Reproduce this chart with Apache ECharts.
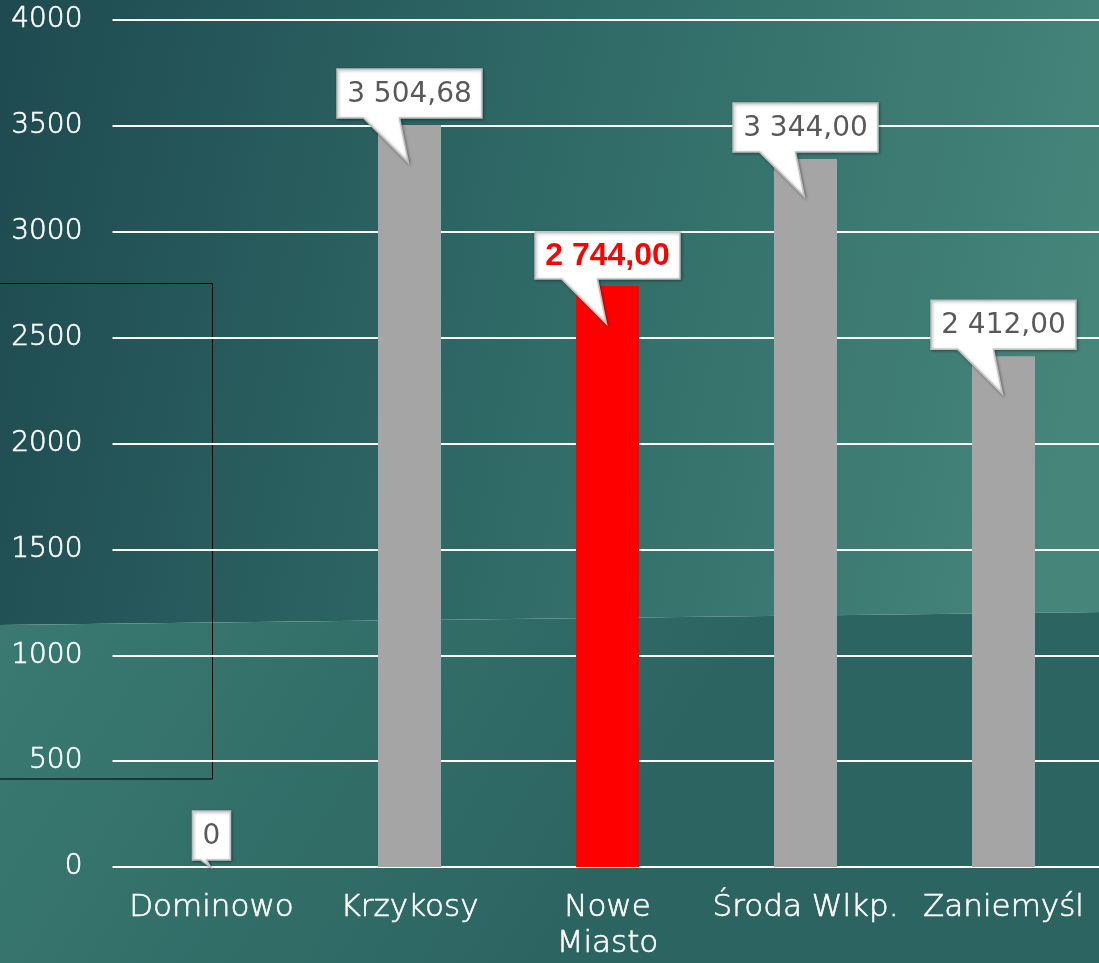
<!DOCTYPE html>
<html>
<head>
<meta charset="utf-8">
<script src="https://cdn.jsdelivr.net/npm/echarts@6/dist/echarts.min.js"></script>
<style>
  html, body { margin: 0; padding: 0; overflow: hidden; }
  #main { width: 1106px; height: 963px; }
</style>
</head>
<body>
<div id="main"></div>
<script>
// dane
var categories = ['Dominowo', 'Krzykosy', 'Nowe\nMiasto', 'Środa Wlkp.', 'Zaniemyśl'];
var values = [0, 3504.68, 2744.00, 3344.00, 2412.00];
var highlight = [false, false, true, false, false];
var yTicks = [0, 500, 1000, 1500, 2000, 2500, 3000, 3500, 4000];

var W = 1106, H = 963;

function formatPl(v) {
  if (v === 0) return '0';
  var parts = v.toFixed(2).split('.');
  var intPart = parts[0].replace(/\B(?=(\d{3})+(?!\d))/g, ' ');
  return intPart + ',' + parts[1];
}

// pomiar tekstu
var measureCtx = document.createElement('canvas').getContext('2d');
function textWidth(txt, font) {
  measureCtx.font = font;
  return measureCtx.measureText(txt).width;
}

var normalFont = '28px "DejaVu Sans"';
var boldFont = 'bold 32px "Liberation Sans"';

var barData = values.map(function (v, i) {
  return {
    value: v,
    itemStyle: { color: highlight[i] ? '#ff0000' : '#a5a5a5' }
  };
});

var calloutData = values.map(function (v, i) { return [i, v]; });

function renderCallout(params, api) {
  var i = params.dataIndex;
  var val = api.value(1);
  var top = api.coord([api.value(0), val]);
  var base = api.coord([api.value(0), 0]);
  var cx = top[0];
  var txt = formatPl(val);
  var font = highlight[i] ? boldFont : normalFont;
  var tw = textWidth(txt, font);
  var bw = Math.round(tw + 20);
  var bh = highlight[i] ? 47 : 49;
  var left = cx - bw / 2;
  var right = cx + bw / 2;
  var bottom = top[1] - 7;
  var upper = bottom - bh;
  var tipY = Math.min(top[1] + 38, base[1]);
  var baseL = Math.max(cx - 46, left + 8);
  var baseR = Math.max(baseL + 6, cx - 10);
  var pts = [
    [left, upper], [right, upper], [right, bottom],
    [baseR, bottom], [cx - 1, tipY], [baseL, bottom], [left, bottom]
  ];
  return {
    type: 'group',
    children: [
      {
        type: 'polygon',
        shape: { points: pts },
        style: {
          fill: '#ffffff',
          stroke: '#bfbfbf',
          lineWidth: 1.5,
          shadowBlur: 3,
          shadowOffsetX: 1,
          shadowOffsetY: 1,
          shadowColor: 'rgba(0,0,0,0.35)'
        }
      },
      {
        type: 'text',
        style: {
          text: txt,
          x: cx,
          y: upper + bh / 2 + 1,
          align: 'center',
          verticalAlign: 'middle',
          font: font,
          fill: highlight[i] ? '#ff0000' : '#595959'
        }
      }
    ]
  };
}

var chart = echarts.init(document.getElementById('main'));

var option = {
  animation: false,
  graphic: [
    {
      type: 'polygon',
      z: -10,
      silent: true,
      shape: { points: [[0, 0], [W, 0], [W, 612], [0, 625]] },
      style: {
        fill: new echarts.graphic.LinearGradient(0, 0, 1, 0.35, [
          { offset: 0, color: '#1e4a50' },
          { offset: 0.5, color: '#2f6966' },
          { offset: 1, color: '#45857a' }
        ])
      }
    },
    {
      type: 'polygon',
      z: -10,
      silent: true,
      shape: { points: [[0, 625], [W, 612], [W, H], [0, H]] },
      style: {
        fill: new echarts.graphic.LinearGradient(0, 0, 0.5, 1, [
          { offset: 0, color: '#3a7a72' },
          { offset: 1, color: '#2c6461' }
        ])
      }
    },
    {
      type: 'rect',
      z: -5,
      silent: true,
      shape: { x: -2, y: 283.5, width: 214.5, height: 495.5 },
      style: { fill: 'none', stroke: '#000000', lineWidth: 1 }
    }
  ],
  grid: { left: 112.5, top: 20, width: 990, height: 847 },
  xAxis: {
    type: 'category',
    data: categories,
    axisLine: { show: false },
    axisTick: { show: false },
    axisLabel: {
      color: '#ffffff',
      fontSize: 31,
      fontWeight: 200,
      fontFamily: 'DejaVu Sans',
      textBorderColor: '#ffffff',
      textBorderWidth: 0.6,
      lineHeight: 36,
      margin: 23,
      interval: 0
    }
  },
  yAxis: {
    type: 'value',
    min: yTicks[0],
    max: yTicks[yTicks.length - 1],
    interval: yTicks[1] - yTicks[0],
    axisLine: { show: false },
    axisTick: { show: false },
    axisLabel: {
      color: '#ffffff',
      fontSize: 28,
      fontWeight: 200,
      fontFamily: 'DejaVu Sans',
      textBorderColor: '#ffffff',
      textBorderWidth: 0.6,
      margin: 30,
      padding: [4, 0, 0, 0],
      formatter: function (v) { return String(v); }
    },
    splitLine: { lineStyle: { color: '#ffffff', width: 2 } }
  },
  series: [
    {
      type: 'bar',
      data: barData,
      barWidth: 63,
      z: 2
    },
    {
      type: 'custom',
      data: calloutData,
      encode: { x: 0, y: 1 },
      renderItem: renderCallout,
      z: 5
    }
  ]
};

chart.setOption(option);
</script>
</body>
</html>
